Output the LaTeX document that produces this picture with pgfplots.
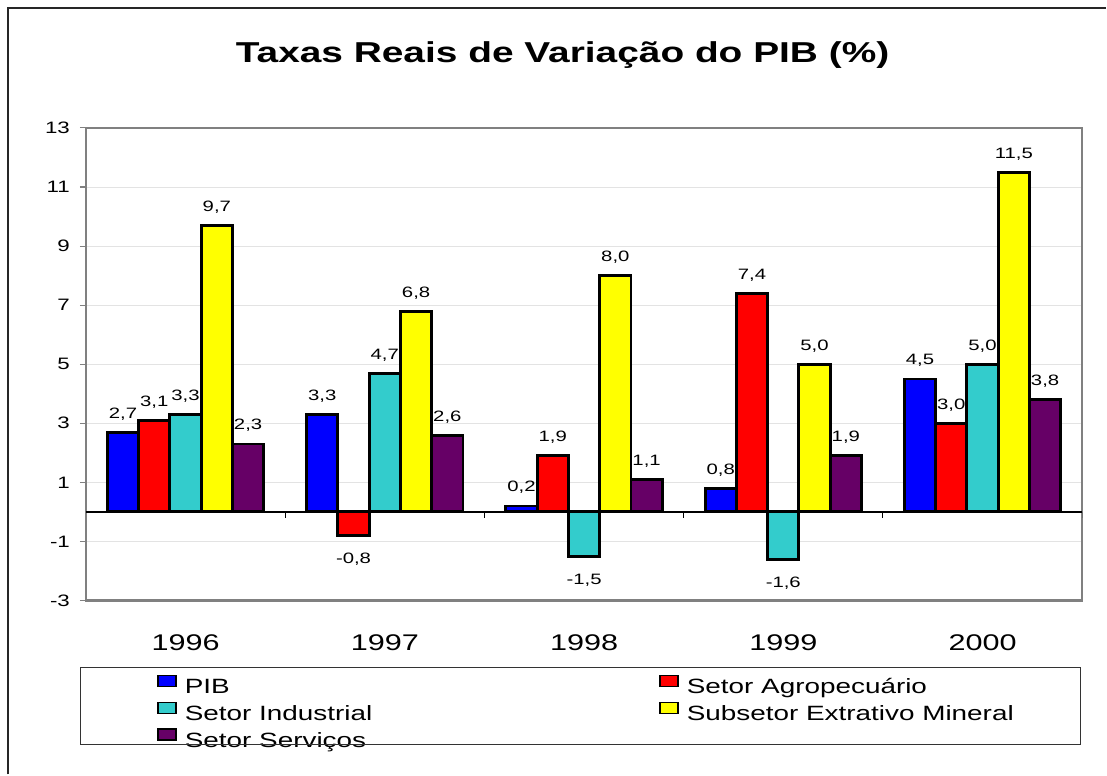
\documentclass[border=0pt]{standalone}
\usepackage{fontspec}
\setmainfont{Liberation Sans}[FakeStretch=1.35]
\usepackage{pgfplots}
\pgfplotsset{compat=1.18}
\definecolor{cpib}{RGB}{0,0,255}
\definecolor{cagro}{RGB}{255,0,0}
\definecolor{cind}{RGB}{51,204,204}
\definecolor{cext}{RGB}{255,255,0}
\definecolor{cserv}{RGB}{102,0,102}
\begin{document}
\begin{tikzpicture}
\path (0,0) rectangle (830.25pt,-581.25pt);
\begin{axis}[
  at={(64.5pt,-450.75pt)}, anchor=south west,
  scale only axis, width=747.75pt, height=354.75pt,
  ybar=0pt, bar width=0.157,
  xmin=-0.5, xmax=4.5, ymin=-3, ymax=13,
  xtick={0,1,2,3,4}, xticklabels={1996,1997,1998,1999,2000},
  ytick={-3,-1,1,3,5,7,9,11,13},
  xtick pos=bottom, ytick pos=left,
  tick align=outside,
  major x tick style={draw=none},
  major y tick style={gray, line width=0.8pt},
  major tick length=4.5pt,
  /pgf/number format/assume math mode=true,
  /pgf/number format/use comma,
  ymajorgrids, major grid style={gray!22, line width=0.6pt},
  axis line style={gray, line width=2pt},
  yticklabel style={font=\fontsize{12.4}{14}\selectfont, xshift=-4pt},
  xticklabel style={font=\fontsize{17}{20}\selectfont, anchor=base, yshift=-33pt},
  nodes near coords,
  nodes near coords style={/pgf/number format/fixed, /pgf/number format/fixed zerofill, /pgf/number format/precision=1, /pgf/number format/use comma, /pgf/number format/assume math mode=true},
  visualization depends on={y \as \rawy},
  every node near coord/.append style={font=\fontsize{11.3}{13}\selectfont, black, inner ysep=8pt, yshift={(\rawy<0)*(-4pt)}},
  legend columns=2,
  legend style={at={(0.0712,-0.1564)}, anchor=north west, draw=none, fill=none, inner sep=0pt,
    column sep=6pt, row sep=1.5pt,
    nodes={inner sep=0pt, text height=12pt, text depth=4.5pt, anchor=base west},
    font=\fontsize{15.5}{18}\selectfont},
  legend image code/.code={\draw[#1, line width=1.3pt] (0pt,5.25pt) rectangle (13.5pt,13.5pt);},
]
\addplot[fill=cpib, draw=black, line width=2.2pt] coordinates {(0,2.7) (1,3.3) (2,0.2) (3,0.8) (4,4.5)};
\addlegendentry{\makebox[350pt][l]{PIB}}
\addplot[fill=cagro, draw=black, line width=2.2pt] coordinates {(0,3.1) (1,-0.8) (2,1.9) (3,7.4) (4,3.0)};
\addlegendentry{Setor Agropecuário}
\addplot[fill=cind, draw=black, line width=2.2pt] coordinates {(0,3.3) (1,4.7) (2,-1.5) (3,-1.6) (4,5.0)};
\addlegendentry{\makebox[350pt][l]{Setor Industrial}}
\addplot[fill=cext, draw=black, line width=2.2pt] coordinates {(0,9.7) (1,6.8) (2,8.0) (3,5.0) (4,11.5)};
\addlegendentry{Subsetor Extrativo Mineral}
\addplot[fill=cserv, draw=black, line width=2.2pt] coordinates {(0,2.3) (1,2.6) (2,1.1) (3,1.9) (4,3.8)};
\addlegendentry{\makebox[350pt][l]{Setor Serviços}}
\draw[black, line width=1pt] (axis cs:-0.5,0) -- (axis cs:4.5,0);
\draw[black, line width=0.8pt] (axis cs:0.5,0) -- ([yshift=-4.5pt]axis cs:0.5,0);
\draw[black, line width=0.8pt] (axis cs:1.5,0) -- ([yshift=-4.5pt]axis cs:1.5,0);
\draw[black, line width=0.8pt] (axis cs:2.5,0) -- ([yshift=-4.5pt]axis cs:2.5,0);
\draw[black, line width=0.8pt] (axis cs:3.5,0) -- ([yshift=-4.5pt]axis cs:3.5,0);
\draw[black, line width=0.8pt] (axis cs:4.5,0) -- ([yshift=-4.5pt]axis cs:4.5,0);
\end{axis}
\node[anchor=base, font=\fontsize{21.6}{26}\selectfont\bfseries] at (422.25pt,-47.25pt) {Taxas Reais de Variação do PIB (\%)};
\draw[black!80, line width=0.8pt] (60.75pt,-501pt) rectangle (810.75pt,-558.75pt);
\draw[black!85, line width=1.3pt] (6pt,-581.25pt) -- (6pt,-6pt) -- (830.25pt,-6pt);
\end{tikzpicture}
\end{document}
